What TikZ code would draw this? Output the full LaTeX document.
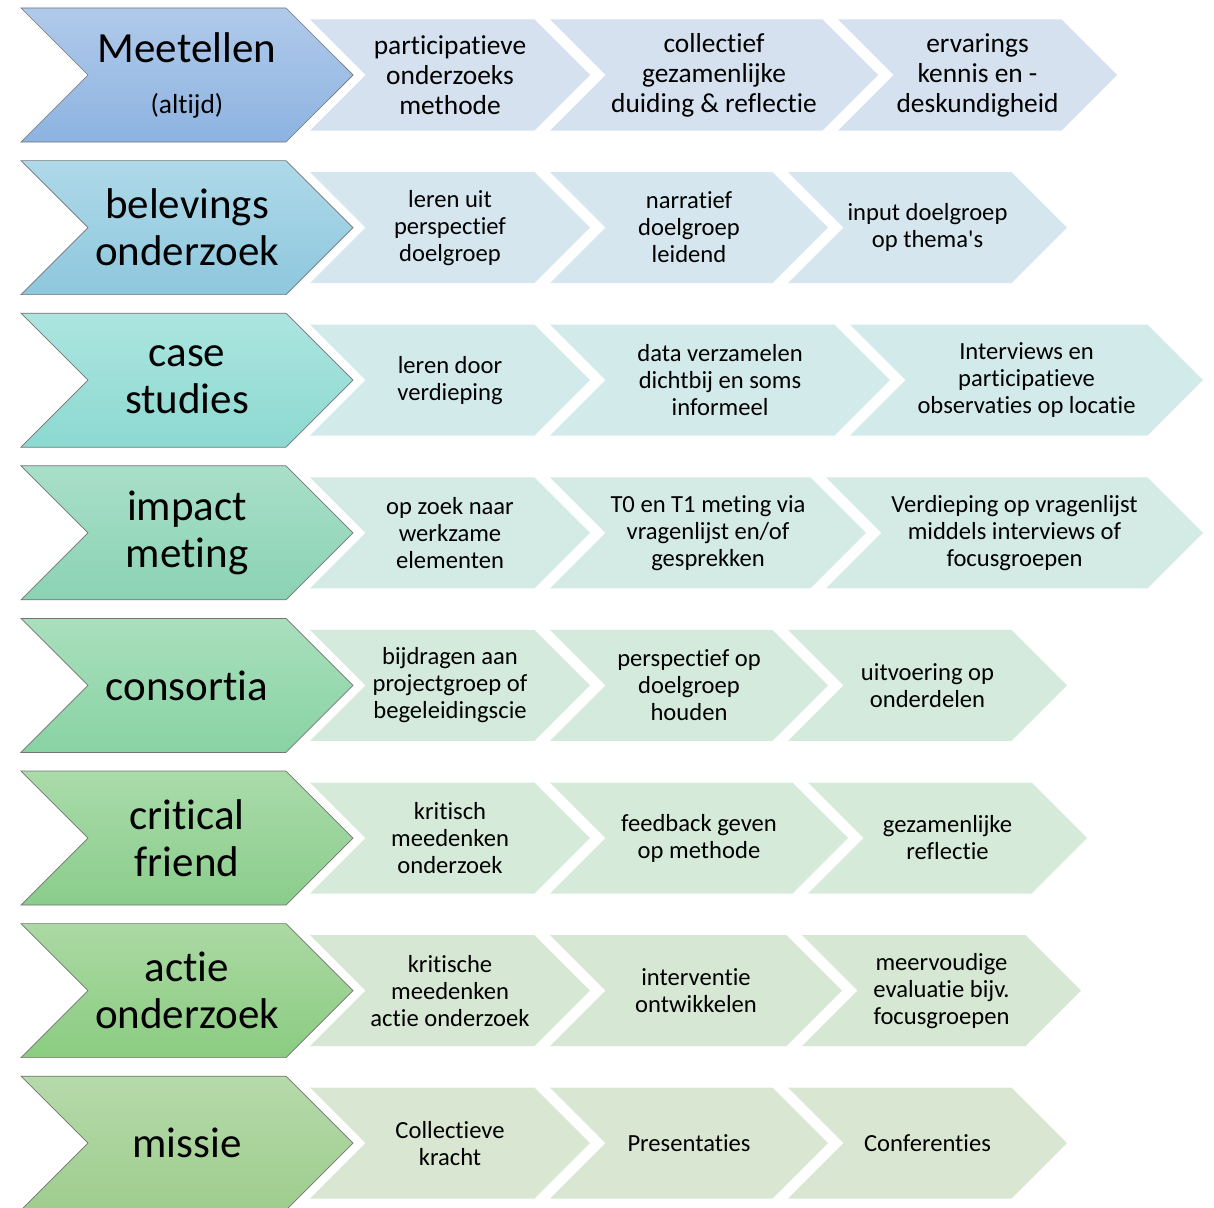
\documentclass[tikz,border=0pt]{standalone}
\usepackage{fontspec}
\setmainfont[Ligatures={TeX,NoCommon}]{Carlito}
\usetikzlibrary{shapes.symbols}

\definecolor{blauwA}{HTML}{B0CAEA}\definecolor{blauwB}{HTML}{8DB3E1}
\definecolor{lblauwA}{HTML}{AED9E9}\definecolor{lblauwB}{HTML}{8EC7DD}
\definecolor{turkA}{HTML}{ADE5E0}\definecolor{turkB}{HTML}{8CD9D1}
\definecolor{zeeA}{HTML}{A9DFCA}\definecolor{zeeB}{HTML}{8AD3B3}
\definecolor{mintA}{HTML}{A9DFBD}\definecolor{mintB}{HTML}{88D3A3}
\definecolor{groenA}{HTML}{AADBAA}\definecolor{groenB}{HTML}{8ACD8B}
\definecolor{grasA}{HTML}{ABD9A3}\definecolor{grasB}{HTML}{8BCC81}
\definecolor{olijfA}{HTML}{B6DAAA}\definecolor{olijfB}{HTML}{9ECD8E}
\definecolor{t1}{HTML}{D5E1EF}\definecolor{t2}{HTML}{D5E6EE}
\definecolor{t3}{HTML}{D3EAEA}\definecolor{t4}{HTML}{D3EAE5}
\definecolor{t5}{HTML}{D4EADD}\definecolor{t6}{HTML}{D5EAD8}
\definecolor{t7}{HTML}{D6E8D3}\definecolor{t8}{HTML}{D8E6D2}

\tikzset{
  pijl/.style={signal, signal from=west, signal to=east, signal pointer angle=90,
    inner sep=0pt, align=center},
  hoofd/.style={pijl, minimum width=332pt, minimum height=134pt,
    draw=black!55, line width=0.7pt, font=\fontsize{43}{47}\selectfont},
  stap/.style={pijl, minimum height=111pt, draw=none,
    font=\fontsize{24.6}{27}\selectfont},
  stapgroot/.style={stap, font=\fontsize{27.4}{30}\selectfont},
}

\begin{document}
\begin{tikzpicture}[x=1pt,y=-1pt]
  \useasboundingbox (0,0) rectangle (1214,1207);
  % rij 1
  \node[hoofd,top color=blauwA,bottom color=blauwB] (meet) at (187,75)
    {Meetellen\\[4pt]{\fontsize{27.5}{30}\selectfont (altijd)}};
  \node[stapgroot,fill=t1,minimum width=280pt] (meet1) at (450,75) {participatieve\\onderzoeks\\methode};
  \node[stapgroot,fill=t1,minimum width=328pt] (meet2) at (714,75) {collectief\\gezamenlijke\\duiding \& reflectie};
  \node[stapgroot,fill=t1,minimum width=279pt] (meet3) at (977.5,75) {ervarings\\kennis en -\\deskundigheid};
  % rij 2
  \node[hoofd,top color=lblauwA,bottom color=lblauwB] (bel) at (187,227.6) {belevings\\onderzoek};
  \node[stap,fill=t2,minimum width=280pt] (bel1) at (450,227.6) {leren uit\\perspectief\\doelgroep};
  \node[stap,fill=t2,minimum width=278pt] (bel2) at (689,227.6) {narratief\\doelgroep\\leidend};
  \node[stap,fill=t2,minimum width=279pt] (bel3) at (927.5,227.6) {input doelgroep\\op thema\textquotesingle s};
  % rij 3
  \node[hoofd,top color=turkA,bottom color=turkB] (case) at (187,380.2) {case\\studies};
  \node[stap,fill=t3,minimum width=280pt] (case1) at (450,380.2) {leren door\\verdieping};
  \node[stap,fill=t3,minimum width=340pt] (case2) at (720,380.2) {data verzamelen\\dichtbij en soms\\informeel};
  \node[stap,fill=t3,minimum width=353pt] (case3) at (1026.5,380.2) {Interviews en\\participatieve\\observaties op locatie};
  % rij 4
  \node[hoofd,top color=zeeA,bottom color=zeeB] (impact) at (187,532.8) {impact\\meting};
  \node[stap,fill=t4,minimum width=280pt] (impact1) at (450,532.8) {op zoek naar\\werkzame\\elementen};
  \node[stap,fill=t4,minimum width=316pt] (impact2) at (708,532.8) {T0 en T1 meting via\\vragenlijst en/of\\gesprekken};
  \node[stap,fill=t4,minimum width=377pt] (impact3) at (1014.5,532.8) {Verdieping op vragenlijst\\middels interviews of\\focusgroepen};
  % rij 5
  \node[hoofd,top color=mintA,bottom color=mintB] (cons) at (187,685.4) {consortia};
  \node[stap,fill=t5,minimum width=280pt] (cons1) at (450,685.4) {bijdragen aan\\projectgroep of\\begeleidingscie};
  \node[stap,fill=t5,minimum width=278pt] (cons2) at (689,685.4) {perspectief op\\doelgroep\\houden};
  \node[stap,fill=t5,minimum width=279pt] (cons3) at (927.5,685.4) {uitvoering op\\onderdelen};
  % rij 6
  \node[hoofd,top color=groenA,bottom color=groenB] (crit) at (187,838) {critical\\friend};
  \node[stap,fill=t6,minimum width=280pt] (crit1) at (450,838) {kritisch\\meedenken\\onderzoek};
  \node[stap,fill=t6,minimum width=298pt] (crit2) at (699,838) {feedback geven\\op methode};
  \node[stap,fill=t6,minimum width=279pt] (crit3) at (947.5,838) {gezamenlijke\\reflectie};
  % rij 7
  \node[hoofd,top color=grasA,bottom color=grasB] (actie) at (187,990.6) {actie\\onderzoek};
  \node[stap,fill=t7,minimum width=280pt] (actie1) at (450,990.6) {kritische\\meedenken\\actie onderzoek};
  \node[stap,fill=t7,minimum width=292pt] (actie2) at (696,990.6) {interventie\\ontwikkelen};
  \node[stap,fill=t7,minimum width=279pt] (actie3) at (941.5,990.6) {meervoudige\\evaluatie bijv.\\focusgroepen};
  % rij 8
  \node[hoofd,top color=olijfA,bottom color=olijfB] (missie) at (187,1143.2) {missie};
  \node[stap,fill=t8,minimum width=280pt] (missie1) at (450,1143.2) {Collectieve\\kracht};
  \node[stap,fill=t8,minimum width=278pt] (missie2) at (689,1143.2) {Presentaties};
  \node[stap,fill=t8,minimum width=279pt] (missie3) at (927.5,1143.2) {Conferenties};
\end{tikzpicture}
\end{document}
